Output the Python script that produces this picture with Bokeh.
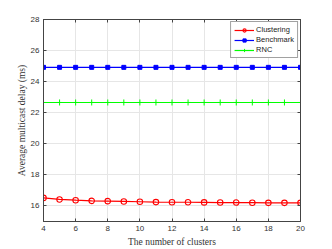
from bokeh.plotting import figure
from bokeh.models import LinearAxis, Range1d, FixedTicker, Legend, LegendItem
from bokeh.embed import file_html
from bokeh.resources import INLINE

clusters = list(range(4, 21))
clustering = [16.52, 16.42, 16.37, 16.33, 16.31, 16.29, 16.27, 16.25, 16.24, 16.24, 16.23,
              16.22, 16.22, 16.21, 16.2, 16.2, 16.2]
benchmark = [24.92] * 17
rnc = [22.66] * 17
x_ticks = [4, 6, 8, 10, 12, 14, 16, 18, 20]
y_ticks = [16, 18, 20, 22, 24, 26, 28]

p = figure(width=332, height=249, output_backend="svg", toolbar_location=None,
           x_range=Range1d(4, 20), y_range=Range1d(15, 28),
           min_border_left=43, min_border_right=32, min_border_top=19, min_border_bottom=27)
p.outline_line_color = "#444444"
p.outline_line_width = 1
p.background_fill_color = "white"
p.border_fill_color = "white"

for ax in [p.xaxis[0], p.yaxis[0]]:
    ax.major_tick_in = 3
    ax.major_tick_out = 0
    ax.minor_tick_line_color = None
    ax.axis_line_color = "#444444"
    ax.major_tick_line_color = "#444444"
    ax.major_label_text_font = "Liberation Sans"
    ax.major_label_text_font_size = "8px"
    ax.major_label_text_color = "#333333"
    ax.axis_label_text_font = "Liberation Serif"
    ax.axis_label_text_font_size = "9.5px"
    ax.axis_label_text_font_style = "normal"
    ax.axis_label_text_color = "#333333"
    ax.major_label_standoff = 4
    ax.axis_label_standoff = 3

p.yaxis[0].axis_label_standoff = 1
p.xaxis[0].ticker = FixedTicker(ticks=x_ticks)
p.yaxis[0].ticker = FixedTicker(ticks=y_ticks)
p.xaxis[0].axis_label = "The number of clusters"
p.yaxis[0].axis_label = "Average multicast delay (ms)"

top = LinearAxis(ticker=FixedTicker(ticks=x_ticks), major_label_text_color=None,
                 major_label_text_font_size="1px", major_label_standoff=0,
                 major_tick_in=3, major_tick_out=0, minor_tick_line_color=None,
                 axis_line_color="#444444", major_tick_line_color="#444444")
right = LinearAxis(ticker=FixedTicker(ticks=y_ticks), major_label_text_color=None,
                   major_label_text_font_size="1px", major_label_standoff=0,
                   major_tick_in=3, major_tick_out=0, minor_tick_line_color=None,
                   axis_line_color="#444444", major_tick_line_color="#444444")
p.add_layout(top, "above")
p.add_layout(right, "right")

p.xgrid.ticker = FixedTicker(ticks=x_ticks)
p.ygrid.ticker = FixedTicker(ticks=y_ticks)
p.xgrid.grid_line_color = "#e6e6e6"
p.ygrid.grid_line_color = "#e6e6e6"

l1 = p.line(clusters, clustering, line_color="red", line_width=1.2)
m1 = p.scatter(clusters, clustering, marker="circle", size=5.5, line_color="red",
               fill_color="white", fill_alpha=0, line_width=1.1)
l2 = p.line(clusters, benchmark, line_color="blue", line_width=1.2)
m2 = p.scatter(clusters, benchmark, marker="square", size=4, line_color="blue",
               fill_color="blue", line_width=1)
l3 = p.line(clusters, rnc, line_color="#00ff00", line_width=1.2)
m3 = p.scatter(clusters, rnc, marker="cross", size=6, line_color="#00ff00", line_width=1)

legend = Legend(items=[LegendItem(label="Clustering", renderers=[l1, m1]),
                       LegendItem(label="Benchmark", renderers=[l2, m2]),
                       LegendItem(label="RNC", renderers=[l3, m3])],
                location="top_right")
legend.label_text_font = "Liberation Sans"
legend.label_text_font_size = "7.5px"
legend.label_text_color = "#222222"
legend.glyph_width = 20
legend.glyph_height = 8
legend.label_height = 8
legend.spacing = 1
legend.padding = 3
legend.margin = 2
legend.label_standoff = 2
legend.border_line_color = "#444444"
legend.border_line_width = 1
legend.background_fill_alpha = 1
p.add_layout(legend)

open("out.html", "w").write(file_html(p, INLINE))
